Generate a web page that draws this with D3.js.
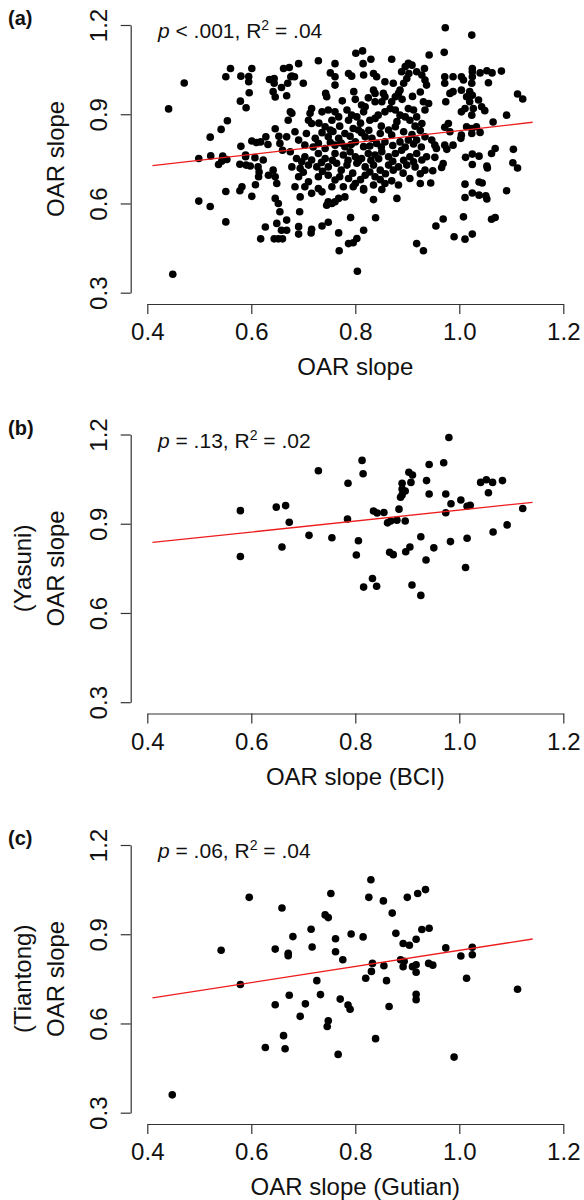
<!DOCTYPE html>
<html>
<head>
<meta charset="utf-8">
<script src="https://cdn.jsdelivr.net/npm/d3@7"></script>
<style>
  html, body { margin: 0; padding: 0; background: #fff; }
  svg { display: block; }
  text { font-family: "Liberation Sans", Arial, Helvetica, sans-serif; fill: #111; }
</style>
</head>
<body>
<svg id="chart" width="584" height="1200"></svg>
<script>
// ---------------- DATA ----------------
const xTicks = [0.4, 0.6, 0.8, 1.0, 1.2];
const yTicks = [0.3, 0.6, 0.9, 1.2];
const panelLetters = ["(a)", "(b)", "(c)"];
const xTitles = ["OAR slope", "OAR slope (BCI)", "OAR slope (Gutian)"];
const yTitleTop = ["", "(Yasuni)", "(Tiantong)"];
const yTitle = ["OAR slope", "OAR slope", "OAR slope"];
const statP = ["< .001", "= .13", "= .06"];
const statR2 = [".04", ".02", ".04"];

// regression line endpoints [x, y]
const fitA = [[0.41, 0.727], [1.141, 0.873]];
const fitB = [[0.41, 0.837], [1.141, 0.972]];
const fitC = [[0.41, 0.686], [1.141, 0.884]];

// panel (a): all sites
const pointsA = [
[0.471,1.005],[0.441,0.918],[0.449,0.362],
[0.560,1.054],[0.601,1.054],[0.551,1.026],[0.580,1.028],[0.595,1.027],[0.595,1.009],[0.596,0.972],[0.579,0.944],[0.590,0.922],
[0.635,1.017],[0.644,1.020],[0.644,1.004],[0.642,0.976],[0.646,0.958],[0.658,0.990],[0.662,1.054],
[0.676,1.026],[0.683,1.026],[0.668,0.962],
[0.554,0.878],[0.542,0.849],[0.521,0.823],[0.646,0.851],[0.580,0.792],
[0.601,0.810],[0.610,0.805],[0.618,0.807],[0.628,0.824],[0.632,0.798],
[0.653,0.826],[0.655,0.802],[0.660,0.779],
[0.499,0.751],[0.522,0.760],[0.545,0.759],[0.537,0.731],[0.543,0.742],[0.553,0.748],
[0.589,0.757],[0.589,0.763],[0.607,0.754],
[0.578,0.732],[0.590,0.729],[0.598,0.726],
[0.613,0.723],[0.615,0.706],[0.614,0.690],[0.623,0.746],
[0.633,0.695],[0.642,0.712],[0.646,0.690],[0.649,0.667],
[0.608,0.663],[0.578,0.643],[0.582,0.656],[0.551,0.640],[0.601,0.624],
[0.499,0.608],[0.521,0.590],[0.551,0.538],[0.627,0.521],[0.618,0.481],
[0.646,0.617],[0.652,0.600],[0.655,0.572],[0.649,0.533],[0.658,0.510],
[0.644,0.481],[0.652,0.481],[0.660,0.481],
[0.801,1.105],[0.814,1.113],[0.830,1.085],[0.815,1.070],[0.870,1.085],[0.729,1.080],[0.691,1.070],[0.761,1.070],
[0.673,1.057],[0.678,1.028],[0.670,1.004],
[0.700,1.004],[0.752,1.039],[0.761,1.026],[0.761,0.998],[0.787,1.037],[0.793,1.028],
[0.816,1.032],[0.835,1.037],[0.841,1.026],[0.857,1.009],[0.873,1.004],
[0.889,1.043],[0.896,1.060],[0.902,1.071],[0.909,1.065],[0.903,1.037],[0.899,1.020],[0.893,1.004],[0.886,0.981],[0.883,0.970],[0.877,0.959],[0.870,0.942],
[0.918,1.043],[0.928,1.032],[0.934,1.015],[0.937,0.998],[0.933,1.054],[0.942,1.099],
[0.797,0.976],[0.743,0.970],[0.745,0.959],
[0.716,0.919],[0.713,0.903],[0.710,0.880],[0.716,0.869],
[0.675,0.908],[0.678,0.903],[0.671,0.880],
[0.736,0.908],[0.748,0.914],[0.761,0.908],[0.768,0.891],[0.755,0.880],[0.742,0.858],[0.752,0.847],
[0.784,0.914],[0.793,0.897],[0.787,0.880],[0.803,0.891],[0.816,0.908],[0.819,0.925],[0.812,0.931],
[0.838,0.942],[0.851,0.942],[0.857,0.959],[0.854,0.970],[0.867,0.919],[0.877,0.914],[0.886,0.897],[0.857,0.908],[0.838,0.886],[0.828,0.880],[0.844,0.897],
[0.902,0.919],[0.912,0.914],[0.896,0.891],[0.905,0.880],[0.918,0.891],[0.928,0.869],[0.934,0.914],[0.941,0.936],[0.931,0.942],
[0.835,0.981],[0.838,0.970],
[0.684,0.841],[0.668,0.824],[0.691,0.813],[0.723,0.819],[0.729,0.802],[0.703,0.796],[0.748,0.824],[0.768,0.819],[0.780,0.835],[0.796,0.852],[0.806,0.847],[0.819,0.824],[0.832,0.819],[0.848,0.835],[0.864,0.847],[0.877,0.858],[0.893,0.841],[0.902,0.813],[0.918,0.813],[0.934,0.824],[0.886,0.807],[0.857,0.807],[0.841,0.802],[0.816,0.791],[0.800,0.807],[0.780,0.791],[0.761,0.796],[0.742,0.785],
[0.675,0.774],[0.687,0.751],[0.703,0.757],[0.716,0.746],[0.729,0.768],[0.742,0.751],[0.761,0.768],[0.777,0.763],[0.790,0.774],[0.800,0.757],[0.812,0.751],[0.825,0.768],[0.838,0.763],[0.851,0.774],[0.864,0.757],[0.877,0.768],[0.889,0.779],[0.905,0.757],[0.918,0.768],[0.928,0.746],[0.937,0.757],
[0.678,0.723],[0.694,0.718],[0.710,0.729],[0.726,0.723],[0.748,0.723],[0.764,0.735],[0.784,0.729],[0.803,0.735],[0.819,0.723],[0.835,0.729],[0.848,0.712],[0.864,0.729],[0.883,0.723],[0.899,0.729],[0.915,0.723],[0.934,0.712],
[0.691,0.690],[0.710,0.673],[0.729,0.690],[0.748,0.695],[0.761,0.679],[0.787,0.684],[0.800,0.667],[0.819,0.695],[0.838,0.690],[0.857,0.667],[0.883,0.662],[0.905,0.684],[0.925,0.667],[0.684,0.656],[0.703,0.656],[0.729,0.650],[0.755,0.656],[0.777,0.656],[0.796,0.656],[0.816,0.650],[0.835,0.662],
[0.716,0.634],[0.736,0.639],[0.694,0.622],[0.748,0.606],[0.761,0.606],[0.768,0.617],[0.780,0.622],[0.816,0.645],[0.835,0.613],[0.880,0.617],[0.851,0.647],
[0.745,0.594],[0.755,0.600],[0.693,0.572],[0.791,0.553],[0.839,0.552],
[0.668,0.544],[0.668,0.510],[0.691,0.522],[0.691,0.497],[0.716,0.513],[0.715,0.501],[0.736,0.524],[0.748,0.537],[0.768,0.501],[0.816,0.510],
[0.803,0.482],[0.787,0.465],[0.796,0.468],[0.769,0.441],[0.804,0.372],[0.918,0.465],[0.931,0.441],
[0.706,0.835],[0.736,0.838],[0.757,0.842],[0.790,0.826],[0.812,0.838],[0.826,0.846],[0.870,0.830],[0.909,0.832],[0.925,0.845],
[0.719,0.790],[0.752,0.805],[0.773,0.803],[0.792,0.798],[0.828,0.793],[0.850,0.790],[0.872,0.795],[0.896,0.790],[0.912,0.800],[0.927,0.790],
[0.697,0.740],[0.735,0.738],[0.756,0.745],[0.786,0.745],[0.806,0.742],[0.830,0.745],[0.845,0.750],[0.872,0.742],[0.893,0.745],[0.912,0.740],
[0.700,0.705],[0.737,0.708],[0.773,0.712],[0.795,0.702],[0.828,0.706],[0.858,0.700],[0.873,0.712],[0.892,0.702],[0.925,0.700],
[0.770,0.690],[0.810,0.680],[0.848,0.680],[0.870,0.676],
[0.770,0.860],[0.810,0.870],[0.850,0.860],[0.880,0.875],[0.915,0.860],[0.730,0.870],
[0.775,0.945],[0.800,0.950],[0.825,0.955],[0.890,0.950],[0.910,0.960],[0.925,0.975],
[0.973,1.191],[1.024,1.166],[0.971,1.108],
[0.972,1.026],[0.988,1.026],[1.004,1.026],[1.008,1.015],[1.025,1.054],[1.025,1.043],[1.025,1.026],[1.040,1.039],[1.053,1.046],[1.063,1.039],[1.081,1.045],[1.056,1.006],[1.024,1.004],[0.972,1.004],
[1.004,0.981],[0.988,0.976],[0.982,0.970],[1.020,0.976],[1.025,0.964],[1.014,0.959],[1.020,0.942],[1.011,0.919],[1.004,0.908],[1.027,0.919],[1.024,0.897],[1.037,0.948],[1.043,0.925],[1.049,0.912],[0.974,0.942],
[1.112,0.968],[1.122,0.951],[1.091,0.897],[1.065,0.874],
[0.979,0.869],[0.972,0.856],[0.982,0.841],
[1.014,0.858],[1.024,0.852],[1.033,0.858],[1.040,0.839],[1.024,0.835],[1.004,0.830],[1.003,0.819],
[0.947,0.813],[0.953,0.796],[0.972,0.796],[0.976,0.782],[0.988,0.796],[0.956,0.785],
[1.069,0.785],[1.062,0.768],[1.104,0.782],
[0.953,0.755],
[1.012,0.755],[1.025,0.766],[1.038,0.759],[1.025,0.731],
[1.053,0.726],[1.054,0.719],
[1.103,0.737],[1.112,0.719],
[0.969,0.734],[0.966,0.721],[0.949,0.710],
[0.945,0.669],
[1.011,0.665],[1.038,0.672],[1.044,0.669],
[1.011,0.620],[1.025,0.635],[1.038,0.628],[1.051,0.626],[1.053,0.615],
[1.091,0.643],
[1.008,0.555],[0.969,0.548],[0.955,0.524],[1.062,0.547],[1.069,0.553],
[0.990,0.488],[1.011,0.480],[1.025,0.497]
];

// panel (b): BCI vs Yasuni
const pointsB = [
[0.980,1.190],[0.813,1.113],[0.815,1.068],[0.729,1.078],[0.786,1.036],[0.942,1.099],[0.970,1.105],
[0.903,1.073],[0.910,1.064],[0.907,1.039],[0.890,1.036],[0.937,1.045],[0.890,1.017],[0.896,1.010],
[0.887,0.989],[0.890,0.997],[0.942,1.000],[0.974,1.000],[0.984,0.967],[1.003,0.980],[1.015,0.959],
[1.021,0.962],[1.041,1.039],[1.052,1.048],[1.064,1.039],[1.083,1.045],[1.056,1.004],[1.122,0.951],
[1.092,0.896],[1.065,0.872],[0.974,0.937],[0.579,0.944],[0.648,0.956],[0.666,0.961],[0.673,0.905],
[0.579,0.790],[0.659,0.822],[0.711,0.861],[0.755,0.853],[0.785,0.916],[0.806,0.843],[0.802,0.795],
[0.835,0.943],[0.842,0.936],[0.855,0.938],[0.884,0.949],[0.862,0.903],[0.868,0.909],[0.880,0.912],
[0.896,0.909],[0.926,0.856],[0.905,0.822],[0.897,0.806],[0.951,0.819],[0.936,0.778],[0.983,0.840],
[1.015,0.851],[1.012,0.753],[0.866,0.804],[0.873,0.796],[0.833,0.716],[0.816,0.687],[0.841,0.690],
[0.909,0.694],[0.926,0.659]
];

// panel (c): Gutian vs Tiantong
const pointsC = [
[0.448,0.360],[0.542,0.846],[0.579,0.731],[0.596,1.024],[0.659,0.988],[0.646,0.850],[0.671,0.836],
[0.671,0.828],[0.680,0.892],[0.673,0.695],[0.646,0.663],[0.662,0.559],[0.627,0.519],[0.665,0.515],
[0.694,0.624],[0.704,0.666],[0.715,0.917],[0.717,0.857],[0.726,0.744],[0.733,0.697],[0.742,0.965],
[0.748,0.956],[0.753,1.037],[0.762,0.885],[0.762,0.841],[0.776,0.814],[0.771,0.682],[0.786,0.662],
[0.790,0.648],[0.748,0.609],[0.746,0.590],[0.767,0.496],[0.792,0.901],[0.815,0.891],[0.820,0.752],
[0.830,1.083],[0.826,1.024],[0.833,0.802],[0.831,0.775],[0.839,0.549],[0.854,1.012],[0.855,0.794],
[0.860,0.744],[0.865,0.657],[0.871,0.971],[0.878,0.903],[0.892,0.869],[0.904,0.863],[0.900,1.024],
[0.920,1.037],[0.935,1.050],[0.887,0.814],[0.894,0.809],[0.892,0.791],[0.910,0.791],[0.917,0.797],
[0.917,0.772],[0.917,0.883],[0.928,0.916],[0.942,0.920],[0.941,0.802],[0.949,0.796],[0.917,0.698],
[0.917,0.680],[0.974,0.854],[1.003,0.827],[1.025,0.856],[1.025,0.831],[1.014,0.752],[0.990,0.487],
[1.112,0.715]
];

const panelData = [pointsA, pointsB, pointsC];
const panelFits = [fitA, fitB, fitC];

// ---------------- LAYOUT ----------------
const offsets = [0, 409.5, 820];
const x = d3.scaleLinear().domain([0.4, 1.2]).range([147.3, 563.3]);
const y = d3.scaleLinear().domain([0.3, 1.2]).range([292.7, 25]);
const axisY0 = 304;   // x-axis line position
const axisX0 = 130.7; // y-axis line position
const FONT = '"Liberation Sans", Arial, sans-serif';

const svg = d3.select("#chart");

panelData.forEach((pts, i) => {
  const g = svg.append("g").attr("transform", `translate(0,${offsets[i]})`);

  // x axis
  const gx = g.append("g")
    .attr("transform", `translate(0,${axisY0})`)
    .call(d3.axisBottom(x).tickValues(xTicks).tickFormat(d3.format(".1f"))
      .tickSize(10).tickSizeOuter(0).tickPadding(9));
  gx.select(".domain").attr("stroke", "#333").attr("stroke-width", 1.2);
  gx.selectAll(".tick line").attr("stroke", "#333").attr("stroke-width", 1.2);
  gx.selectAll(".tick text").attr("font-size", 24).attr("fill", "#111")
    .style("font-family", FONT);

  // y axis
  const gy = g.append("g")
    .attr("transform", `translate(${axisX0},0)`)
    .call(d3.axisLeft(y).tickValues(yTicks).tickFormat(d3.format(".1f"))
      .tickSize(10).tickSizeOuter(0));
  gy.select(".domain").attr("stroke", "#333").attr("stroke-width", 1.2);
  gy.selectAll(".tick line").attr("stroke", "#333").attr("stroke-width", 1.2);
  gy.selectAll(".tick text")
    .attr("x", null).attr("dy", null).attr("y", null)
    .attr("text-anchor", "middle")
    .attr("transform", "translate(-24,0) rotate(-90)")
    .attr("font-size", 24).attr("fill", "#111")
    .style("font-family", FONT);

  // points
  g.append("g").selectAll("circle").data(pts).join("circle")
    .attr("cx", d => x(d[0])).attr("cy", d => y(d[1]))
    .attr("r", 3.8).attr("fill", "#000");

  // regression line
  const fit = panelFits[i];
  g.append("line")
    .attr("x1", x(fit[0][0])).attr("y1", y(fit[0][1]))
    .attr("x2", x(fit[1][0])).attr("y2", y(fit[1][1]))
    .attr("stroke", "#ee1c1c").attr("stroke-width", 1.3);

  // panel letter
  g.append("text").attr("x", 8).attr("y", 25)
    .attr("font-size", 20).attr("font-weight", "bold").text(panelLetters[i]);

  // stats annotation
  const t = g.append("text").attr("x", 158).attr("y", 38).attr("font-size", 21);
  t.append("tspan").attr("font-style", "italic").text("p");
  t.append("tspan").text(` ${statP[i]}, R`);
  t.append("tspan").attr("font-size", 14).attr("dy", -8).text("2");
  t.append("tspan").attr("dy", 8).text(` = ${statR2[i]}`);

  // x title
  g.append("text").attr("x", x(0.8)).attr("y", 375)
    .attr("text-anchor", "middle").attr("font-size", 24).text(xTitles[i]);

  // y titles
  const yc = (y(0.3) + y(1.2)) / 2;
  g.append("text").attr("transform", `translate(64,${yc}) rotate(-90)`)
    .attr("text-anchor", "middle").attr("font-size", 24).text(yTitle[i]);
  if (yTitleTop[i]) {
    g.append("text").attr("transform", `translate(31,${yc}) rotate(-90)`)
      .attr("text-anchor", "middle").attr("font-size", 24).text(yTitleTop[i]);
  }
});
</script>
</body>
</html>
